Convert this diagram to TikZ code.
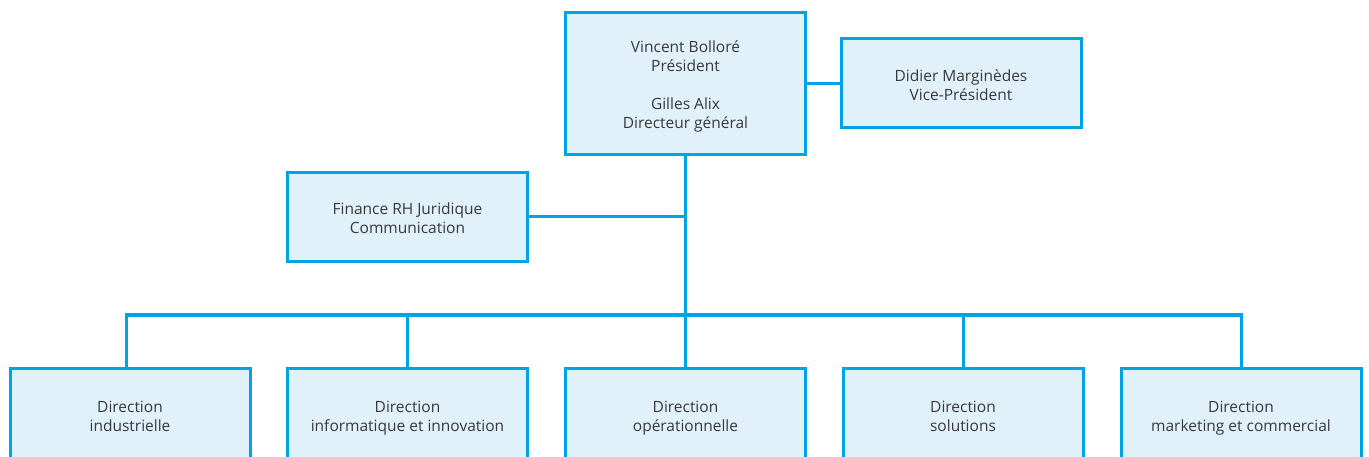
\documentclass[tikz,border=0pt]{standalone}
\usepackage{fontspec}
\setmainfont{Open Sans}
\definecolor{orgline}{RGB}{0,164,228}
\definecolor{orgfill}{RGB}{225,241,250}
\definecolor{orgtext}{RGB}{55,55,60}
% centred stack of lines, drawn slightly below the box centre
\newcommand{\boxlines}[1]{\raisebox{-3.5pt}[\height][\depth]{\begin{tabular}{@{}c@{}}#1\end{tabular}}}
\begin{document}
\begin{tikzpicture}[x=1pt,y=-1pt,
  orgbox/.style={draw=orgline, fill=orgfill, line width=3pt,
    minimum width=240pt, minimum height=89pt, inner sep=0pt,
    text=orgtext, font=\fontsize{15.5}{19}\selectfont},
  link/.style={draw=orgline, line width=3pt}]
\useasboundingbox (0,0) rectangle (1369,457);
\clip (0,0) rectangle (1369,457);
% top management
\node[orgbox, minimum height=142pt] (pres) at (685.5,83.5)
  {\boxlines{Vincent Bolloré\\Président\\[19pt]Gilles Alix\\Directeur général}};
\node[orgbox] (vp) at (961,83.5) {\boxlines{Didier Marginèdes\\Vice-Président}};
\node[orgbox] (fin) at (407.5,217) {\boxlines{Finance RH Juridique\\Communication}};
% directions
\node[orgbox, minimum height=93pt] (d1) at (130,414.5) {\boxlines{Direction\\industrielle}};
\node[orgbox, minimum height=93pt] (d2) at (407.5,414.5) {\boxlines{Direction\\informatique et innovation}};
\node[orgbox, minimum height=93pt] (d3) at (685.5,414.5) {\boxlines{Direction\\opérationnelle}};
\node[orgbox, minimum height=93pt] (d4) at (963,414.5) {\boxlines{Direction\\solutions}};
\node[orgbox, minimum height=93pt] (d5) at (1241,414.5) {\boxlines{Direction\\marketing et commercial}};
% connectors
\coordinate (bus) at (685.5,315);
\draw[link] (pres.east) -- (vp.west);
\draw[link] (pres.south) -- (d3.north);
\draw[link] (fin.east) -- (fin.east -| pres.south);
\draw[link] ([xshift=-4pt]d1.north) |- (bus) -| (d5.north);
\draw[link] (d2.north) -- (d2.north |- bus);
\draw[link] (d4.north) -- (d4.north |- bus);
\end{tikzpicture}
\end{document}
